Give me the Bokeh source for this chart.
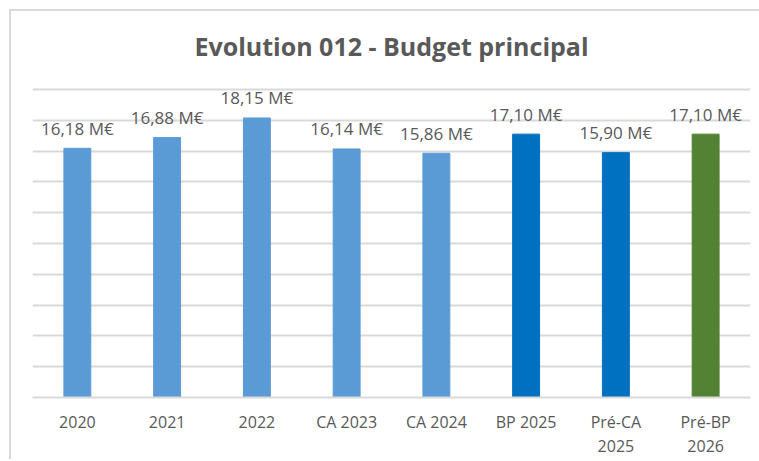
from bokeh.plotting import figure
from bokeh.models import FactorRange, Range1d, FixedTicker, ColumnDataSource, Label
from bokeh.core.properties import value
from bokeh.embed import file_html
from bokeh.resources import INLINE

title_text = "Evolution 012 - Budget principal"
categories = ["2020", "2021", "2022", "CA 2023", "CA 2024", "BP 2025", "Pré-CA\n2025", "Pré-BP\n2026"]
values = [16.18, 16.88, 18.15, 16.14, 15.86, 17.10, 15.90, 17.10]
labels = ["16,18 M€", "16,88 M€", "18,15 M€", "16,14 M€", "15,86 M€", "17,10 M€", "15,90 M€", "17,10 M€"]
colors = ["#5B9BD5", "#5B9BD5", "#5B9BD5", "#5B9BD5", "#5B9BD5", "#0070C0", "#0070C0", "#548235"]
y_ticks = [0, 2, 4, 6, 8, 10, 12, 14, 16, 18, 20]

FONT = "Open Sans"
TXT = "#595959"
GRID = "#D9D9D9"

src = ColumnDataSource(dict(cat=categories, val=values, lab=labels, col=colors))

# the frame extends above the top gridline (20) so that the title can sit inside it
p = figure(frame_width=718, frame_height=377, output_backend="svg", toolbar_location=None,
           x_range=FactorRange(*categories, range_padding=0), y_range=Range1d(0, 24.48),
           min_border_left=21, min_border_right=9, min_border_top=9, min_border_bottom=56)
p.margin = (9, 0, 0, 9)
p.styles = {"border-left": "2px solid #D9D9D9", "border-top": "2px solid #D9D9D9"}

title = Label(x=359, y=22.85, x_units="screen", y_units="data", text=title_text,
              text_align="center", text_baseline="alphabetic", text_font=FONT,
              text_font_size="25px", text_font_style="bold", text_color=TXT)
p.add_layout(title)

p.outline_line_color = None
p.yaxis.visible = False
p.ygrid.ticker = FixedTicker(ticks=y_ticks)
p.ygrid.grid_line_color = GRID
p.ygrid.grid_line_width = 2
p.xgrid.grid_line_color = None

p.xaxis.axis_line_color = GRID
p.xaxis.axis_line_width = 2
p.xaxis.major_tick_line_color = None
p.xaxis.minor_tick_line_color = None
p.xaxis.major_tick_out = 0
p.xaxis.major_tick_in = 0
p.xaxis.minor_tick_out = 0
p.xaxis.major_label_text_font = FONT
p.xaxis.major_label_text_font_size = "16px"
p.xaxis.major_label_text_color = TXT
p.xaxis.major_label_text_line_height = 1.1
p.xaxis.major_label_standoff = 13

p.vbar(x="cat", top="val", width=0.30, color="col", source=src)
p.text(x="cat", y="val", text="lab", source=src, text_align="center", text_baseline="alphabetic",
       y_offset=-20, text_font=value(FONT), text_font_size="17px", text_color=TXT)

open("out.html", "w").write(file_html(p, INLINE))
